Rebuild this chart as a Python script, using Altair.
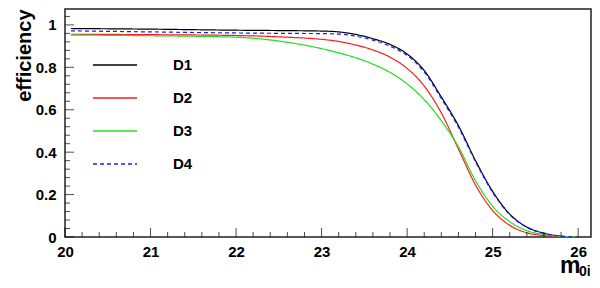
import altair as alt
import pandas as pd
import numpy as np

# ---- data ----
x_vals = [20.07, 21.0, 22.0, 22.6, 23.0, 23.2, 23.4, 23.6, 23.8, 24.0, 24.2, 24.4,
          24.6, 24.8, 25.0, 25.2, 25.4, 25.6, 25.8, 26.0]
d1 = [0.983, 0.980, 0.975, 0.973, 0.971, 0.967, 0.955, 0.935, 0.908, 0.863, 0.785, 0.660,
      0.525, 0.360, 0.215, 0.108, 0.047, 0.018, 0.004, 0.0]
d2 = [0.956, 0.954, 0.950, 0.942, 0.932, 0.922, 0.905, 0.882, 0.848, 0.795, 0.712, 0.585,
      0.415, 0.245, 0.125, 0.055, 0.020, 0.007, 0.002, 0.0]
d3 = [0.952, 0.949, 0.942, 0.918, 0.888, 0.868, 0.845, 0.815, 0.776, 0.722, 0.648, 0.548,
      0.425, 0.265, 0.145, 0.072, 0.030, 0.012, 0.003, 0.0]
d4 = [0.972, 0.967, 0.962, 0.960, 0.959, 0.957, 0.947, 0.928, 0.900, 0.856, 0.778, 0.653,
      0.518, 0.355, 0.210, 0.105, 0.045, 0.017, 0.004, 0.0]

series_names = ["D1", "D2", "D3", "D4"]
series_colors = ["#000000", "#ff1a1a", "#22dd22", "#1a1aff"]
series_dash = [[1, 0], [1, 0], [1, 0], [4, 3]]

x_major = [20, 21, 22, 23, 24, 25, 26]
y_major = [0, 0.2, 0.4, 0.6, 0.8, 1.0]

FONT = "Liberation Sans"
W, H = 526, 228
XDOM = [20, 26.15]
YDOM = [0, 1.075]

rows = []
for name, vals in zip(series_names, [d1, d2, d3, d4]):
    for xv, yv in zip(x_vals, vals):
        rows.append({"m": xv, "eff": yv, "series": name})
df = pd.DataFrame(rows)

xs = alt.Scale(domain=XDOM, nice=False, zero=False)
ys = alt.Scale(domain=YDOM, nice=False, zero=False)

lines = alt.Chart(df).mark_line(strokeWidth=1.2, interpolate="monotone").encode(
    x=alt.X("m:Q", scale=xs,
            axis=alt.Axis(values=x_major, format="d", title=None, domain=False,
                          ticks=False, grid=False, labelFont=FONT, labelFontWeight="bold",
                          labelFontSize=15, labelColor="black", labelPadding=7,
                          labelFlush=False)),
    y=alt.Y("eff:Q", scale=ys,
            axis=alt.Axis(values=y_major, format=".1~f", title="efficiency",
                          domain=False, ticks=False, grid=False, labelFont=FONT,
                          labelFontWeight="bold", labelFontSize=15, labelColor="black",
                          labelPadding=9, labelFlush=False, titleFont=FONT,
                          titleFontWeight="bold", titleFontSize=20, titleColor="black",
                          titleAnchor="end", titlePadding=1)),
    color=alt.Color("series:N", scale=alt.Scale(domain=series_names, range=series_colors),
                    legend=alt.Legend(orient="none", legendX=27, legendY=33, title=None,
                                      symbolType="stroke", symbolSize=1936,
                                      symbolStrokeWidth=1.5, labelFont=FONT,
                                      labelFontWeight="bold", labelFontSize=15,
                                      labelColor="black", labelOffset=35, rowPadding=2,
                                      padding=0)),
    strokeDash=alt.StrokeDash("series:N",
                              scale=alt.Scale(domain=series_names, range=series_dash),
                              legend=alt.Legend(orient="none", legendX=27, legendY=33,
                                                title=None)),
    order=alt.Order("series:N"),
)

# inner tick marks
xt = np.round(np.arange(20.0, 26.15, 0.2), 2)
xtick_df = pd.DataFrame({"m": xt, "major": [abs(v - round(v)) < 1e-6 for v in xt]})
yt = np.round(np.arange(0.0, 1.07, 0.04), 2)
ytick_df = pd.DataFrame({"eff": yt, "major": [abs(v * 5 - round(v * 5)) < 1e-6 for v in yt]})

xmaj = alt.Chart(xtick_df[xtick_df.major]).mark_tick(
    orient="vertical", size=9, thickness=1, color="black", yOffset=-4.5
).encode(x=alt.X("m:Q", scale=xs), y=alt.datum(0))
xmin = alt.Chart(xtick_df[~xtick_df.major]).mark_tick(
    orient="vertical", size=5, thickness=1, color="black", yOffset=-2.5
).encode(x=alt.X("m:Q", scale=xs), y=alt.datum(0))
ymaj = alt.Chart(ytick_df[ytick_df.major]).mark_tick(
    orient="horizontal", size=9, thickness=1, color="black", xOffset=4.5
).encode(y=alt.Y("eff:Q", scale=ys), x=alt.datum(20))
ymin = alt.Chart(ytick_df[~ytick_df.major]).mark_tick(
    orient="horizontal", size=5, thickness=1, color="black", xOffset=2.5
).encode(y=alt.Y("eff:Q", scale=ys), x=alt.datum(20))

title_m = alt.Chart(pd.DataFrame({"t": ["m"]})).mark_text(
    font=FONT, fontWeight="bold", fontSize=23, align="left", baseline="alphabetic",
    color="black"
).encode(text="t:N", x=alt.value(495), y=alt.value(264))
title_sub = alt.Chart(pd.DataFrame({"t": ["0i"]})).mark_text(
    font=FONT, fontWeight="bold", fontSize=14, align="left", baseline="alphabetic",
    color="black"
).encode(text="t:N", x=alt.value(514), y=alt.value(267))

chart = alt.layer(lines, xmaj, xmin, ymaj, ymin, title_m, title_sub).properties(
    width=W, height=H,
    autosize=alt.AutoSizeParams(type="none"),
    padding={"left": 57, "right": 1, "top": 1, "bottom": 43},
    background="white"
).configure_view(stroke="#222222", strokeWidth=1.5)

chart.save("out.html", embed_options={"renderer": "svg", "actions": False})
